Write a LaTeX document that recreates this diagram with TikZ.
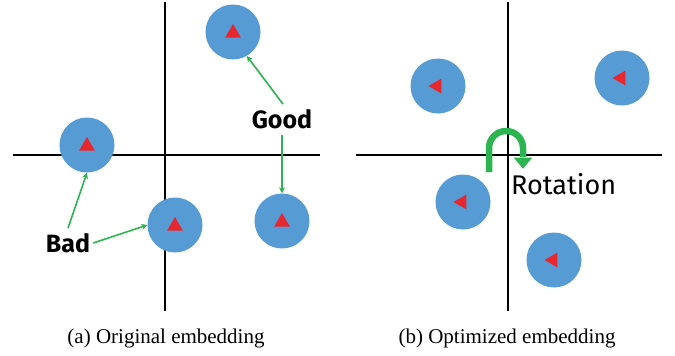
\documentclass[tikz,border=0pt]{standalone}
\usepackage{fontspec}
\setmainfont{Liberation Serif}
\newfontfamily\comicfont{Fira Sans}
\usetikzlibrary{shapes.geometric,arrows.meta}
\definecolor{dotblue}{RGB}{86,155,211}
\definecolor{trired}{RGB}{232,38,45}
\definecolor{arrgreen}{RGB}{44,180,80}
\tikzset{
  axis/.style={line width=1.3pt,black},
  emb/.style={circle,fill=dotblue,minimum size=55pt,inner sep=0pt},
  tri/.style={regular polygon,regular polygon sides=3,fill=trired,minimum size=18pt,inner sep=0pt},
  ptr/.style={draw=arrgreen,line width=1.6pt,-{Stealth[length=6pt,width=6pt]}},
  tag/.style={font=\comicfont\bfseries\fontsize{25}{28}\selectfont,inner sep=0pt},
  captext/.style={font=\fontsize{21}{24}\selectfont,inner sep=0pt}
}
\begin{document}
\begin{tikzpicture}[x=1pt,y=-1pt]
\useasboundingbox (0,0) rectangle (675,356);
% left panel axes
\coordinate (la1) at (165,2); \coordinate (la2) at (165,311);
\coordinate (lb1) at (13,155); \coordinate (lb2) at (320,155);
\draw[axis] (la1) -- (la2);
\draw[axis] (lb1) -- (lb2);
% left embeddings
\node[emb] (c1) at (233,32) {};
\node[emb] (c2) at (87,145) {};
\node[emb] (c3) at (175,225) {};
\node[emb] (c4) at (282,221) {};
\foreach \n in {c1,c2,c3,c4} \node[tri] (t\n) at ([yshift=-1pt]\n) {};
\node[tag] (good) at (282,119) {Good};
\node[tag] (bad) at (68,243) {Bad};
\draw[ptr] (good.north) ++(1,-5) coordinate (g1) (g1) -- (c1.-60);
\draw[ptr] (good.south) ++(0,6) coordinate (g2) (g2) -- (c4.north);
\draw[ptr] (bad.north) ++(0,-5) coordinate (b1) (b1) -- (c2.south);
\draw[ptr] (bad.east) ++(3,0) coordinate (b2) (b2) -- (c3.west);
% right panel axes
\coordinate (ra1) at (508,2); \coordinate (ra2) at (508,311);
\coordinate (rb1) at (356,155); \coordinate (rb2) at (662,155);
\draw[axis] (ra1) -- (ra2);
\draw[axis] (rb1) -- (rb2);
\node[emb] (d1) at (438,86) {};
\node[emb] (d2) at (622,78) {};
\node[emb] (d3) at (463,202) {};
\node[emb] (d4) at (554,260) {};
\foreach \n in {d1,d2,d3,d4} \node[tri,minimum size=17pt,shape border rotate=90] (t\n) at ([xshift=-1pt]\n) {};
% rotation arrow
\coordinate (r0) at (489,172);
\coordinate (r1) at (523,169);
\draw[arrgreen,line width=6.5pt] (r0) -- (489,148) arc[start angle=180,end angle=360,radius=17] -- (523,157);
\node[draw=none,fill=arrgreen,isosceles triangle,isosceles triangle apex angle=80,shape border rotate=-90,minimum width=17pt,minimum height=11pt,inner sep=0pt,anchor=apex] (rtip) at (r1) {};
\node[font=\comicfont\fontsize{27}{30}\selectfont,inner sep=0pt,anchor=west] (rot) at (511,184) {Rotation};
% captions
\node[captext] (capa) at (166,338) {(a) Original embedding};
\node[captext] (capb) at (507,338) {(b) Optimized embedding};
\end{tikzpicture}
\end{document}
